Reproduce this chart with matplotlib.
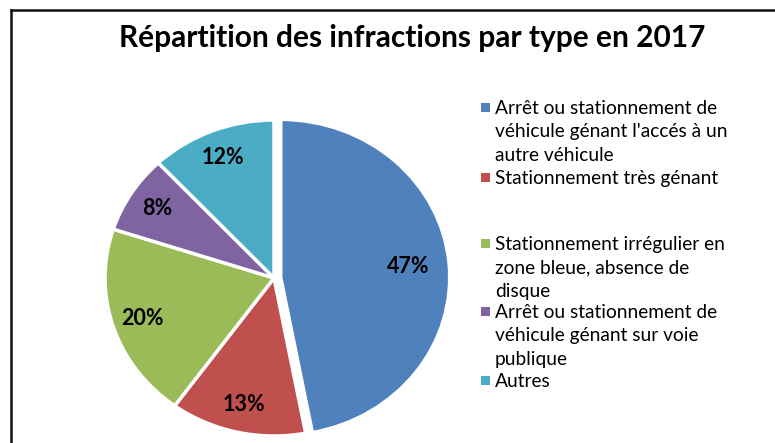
import numpy as np
import matplotlib.pyplot as plt
from matplotlib.lines import Line2D
from matplotlib.patches import Rectangle

# data
labels = [
    "Arrêt ou stationnement de\nvéhicule génant l'accés à un\nautre véhicule",
    "Stationnement très génant",
    "Stationnement irrégulier en\nzone bleue, absence de\ndisque",
    "Arrêt ou stationnement de\nvéhicule génant sur voie\npublique",
    "Autres",
]
values = [47, 13, 20, 8, 12]
colors = ["#4F81BD", "#C0504D", "#9BBB59", "#8064A2", "#4BACC6"]
explode = [0.04, 0, 0, 0, 0]

W, H = 775, 443
fig = plt.figure(figsize=(W / 100, H / 100), dpi=100)
fig.patch.set_facecolor("white")

# pie centre / radii in pixels (the source image is a bit stretched horizontally)
cx, cy = 274, H - 278
rx, ry = 169, 158
lim = 1.1
ax = fig.add_axes([(cx - lim * rx) / W, (cy - lim * ry) / H,
                   2 * lim * rx / W, 2 * lim * ry / H])

wedges, texts, autotexts = ax.pie(
    values, colors=colors, explode=explode, startangle=90, counterclock=False,
    autopct="%1.0f%%", pctdistance=0.82,
    wedgeprops=dict(edgecolor="white", linewidth=2.5),
    textprops=dict(family="Lato", fontsize=15.5, fontweight="bold", color="black"),
)
ax.set_aspect("auto")
ax.set_xlim(-lim, lim)
ax.set_ylim(-lim, lim)
ax.axis("off")
for w in wedges:
    w.set_clip_on(False)

# the big slice's label sits a little closer to the centre in the original
mid = np.deg2rad((wedges[0].theta1 + wedges[0].theta2) / 2)
autotexts[0].set_position((0.80 * np.cos(mid), 0.80 * np.sin(mid)))

fig.text(412 / W, 1 - 38 / H, "Répartition des infractions par type en 2017",
         ha="center", va="center", family="Lato", fontsize=21.5, fontweight="bold")

# legend, laid out like the Excel original
entry_y = [107, 177, 243, 311, 380]
for lab, col, y in zip(labels, colors, entry_y):
    fig.patches.append(Rectangle((481 / W, 1 - (y + 5) / H), 9 / W, 9 / H,
                                 transform=fig.transFigure, facecolor=col,
                                 edgecolor="none"))
    fig.text(495 / W, 1 - (y - 7) / H, lab, ha="left", va="top",
             family="Lato", fontsize=13.8, linespacing=1.45)

# chart border (top and left edges visible)
fig.lines.append(Line2D([10.5 / W, 1.0], [1 - 9.5 / H, 1 - 9.5 / H],
                        transform=fig.transFigure, color="#111111", lw=1.8))
fig.lines.append(Line2D([10.5 / W, 10.5 / W], [0, 1 - 9.5 / H],
                        transform=fig.transFigure, color="#111111", lw=1.8))

fig.savefig("out.png", dpi=100)
